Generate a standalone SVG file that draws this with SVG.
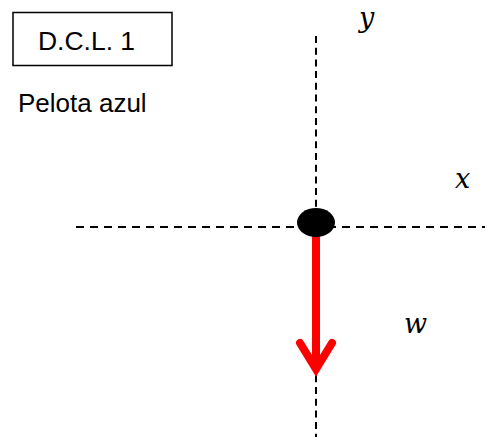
<svg xmlns="http://www.w3.org/2000/svg" width="485" height="439" viewBox="0 0 485 439">
<style>
.axis{stroke:#000;stroke-width:2;fill:none}
.vax{stroke-dasharray:7 4.7}
.hax{stroke-dasharray:8 6}
.lbl{font-family:"Liberation Sans",Arial,sans-serif;fill:#000}
.var{font-family:"DejaVu Serif","Liberation Serif",serif;font-style:italic;font-size:27px;fill:#000}
.force{stroke:#ff0000;stroke-width:8;fill:none;stroke-linecap:round;stroke-linejoin:miter}
</style>
<rect width="485" height="439" fill="#fff"/>
<g id="title">
<rect x="13" y="12.5" width="159" height="53" fill="#fff" stroke="#000" stroke-width="1.5"/>
<text class="lbl" x="86.5" y="50" font-size="26.5" text-anchor="middle">D.C.L. 1</text>
</g>
<g id="subtitle">
<text class="lbl" x="18" y="112" font-size="26">Pelota azul</text>
</g>
<g id="connectors">
<line class="axis vax" x1="316" y1="36" x2="316" y2="437"/>
<line class="axis hax" x1="76" y1="227" x2="485" y2="227"/>
<line class="force" x1="316" y1="238" x2="316" y2="366" stroke-linecap="butt"/>
<polyline class="force" points="300,343 316,369 332,343"/>
</g>
<g id="ball">
<ellipse cx="316" cy="222.5" rx="19" ry="14.5" fill="#000"/>
</g>
<g id="labels">
<text class="var" x="359" y="27">y</text>
<text class="var" x="455" y="188">x</text>
<text class="var" x="404" y="333">w</text>
</g>
</svg>
